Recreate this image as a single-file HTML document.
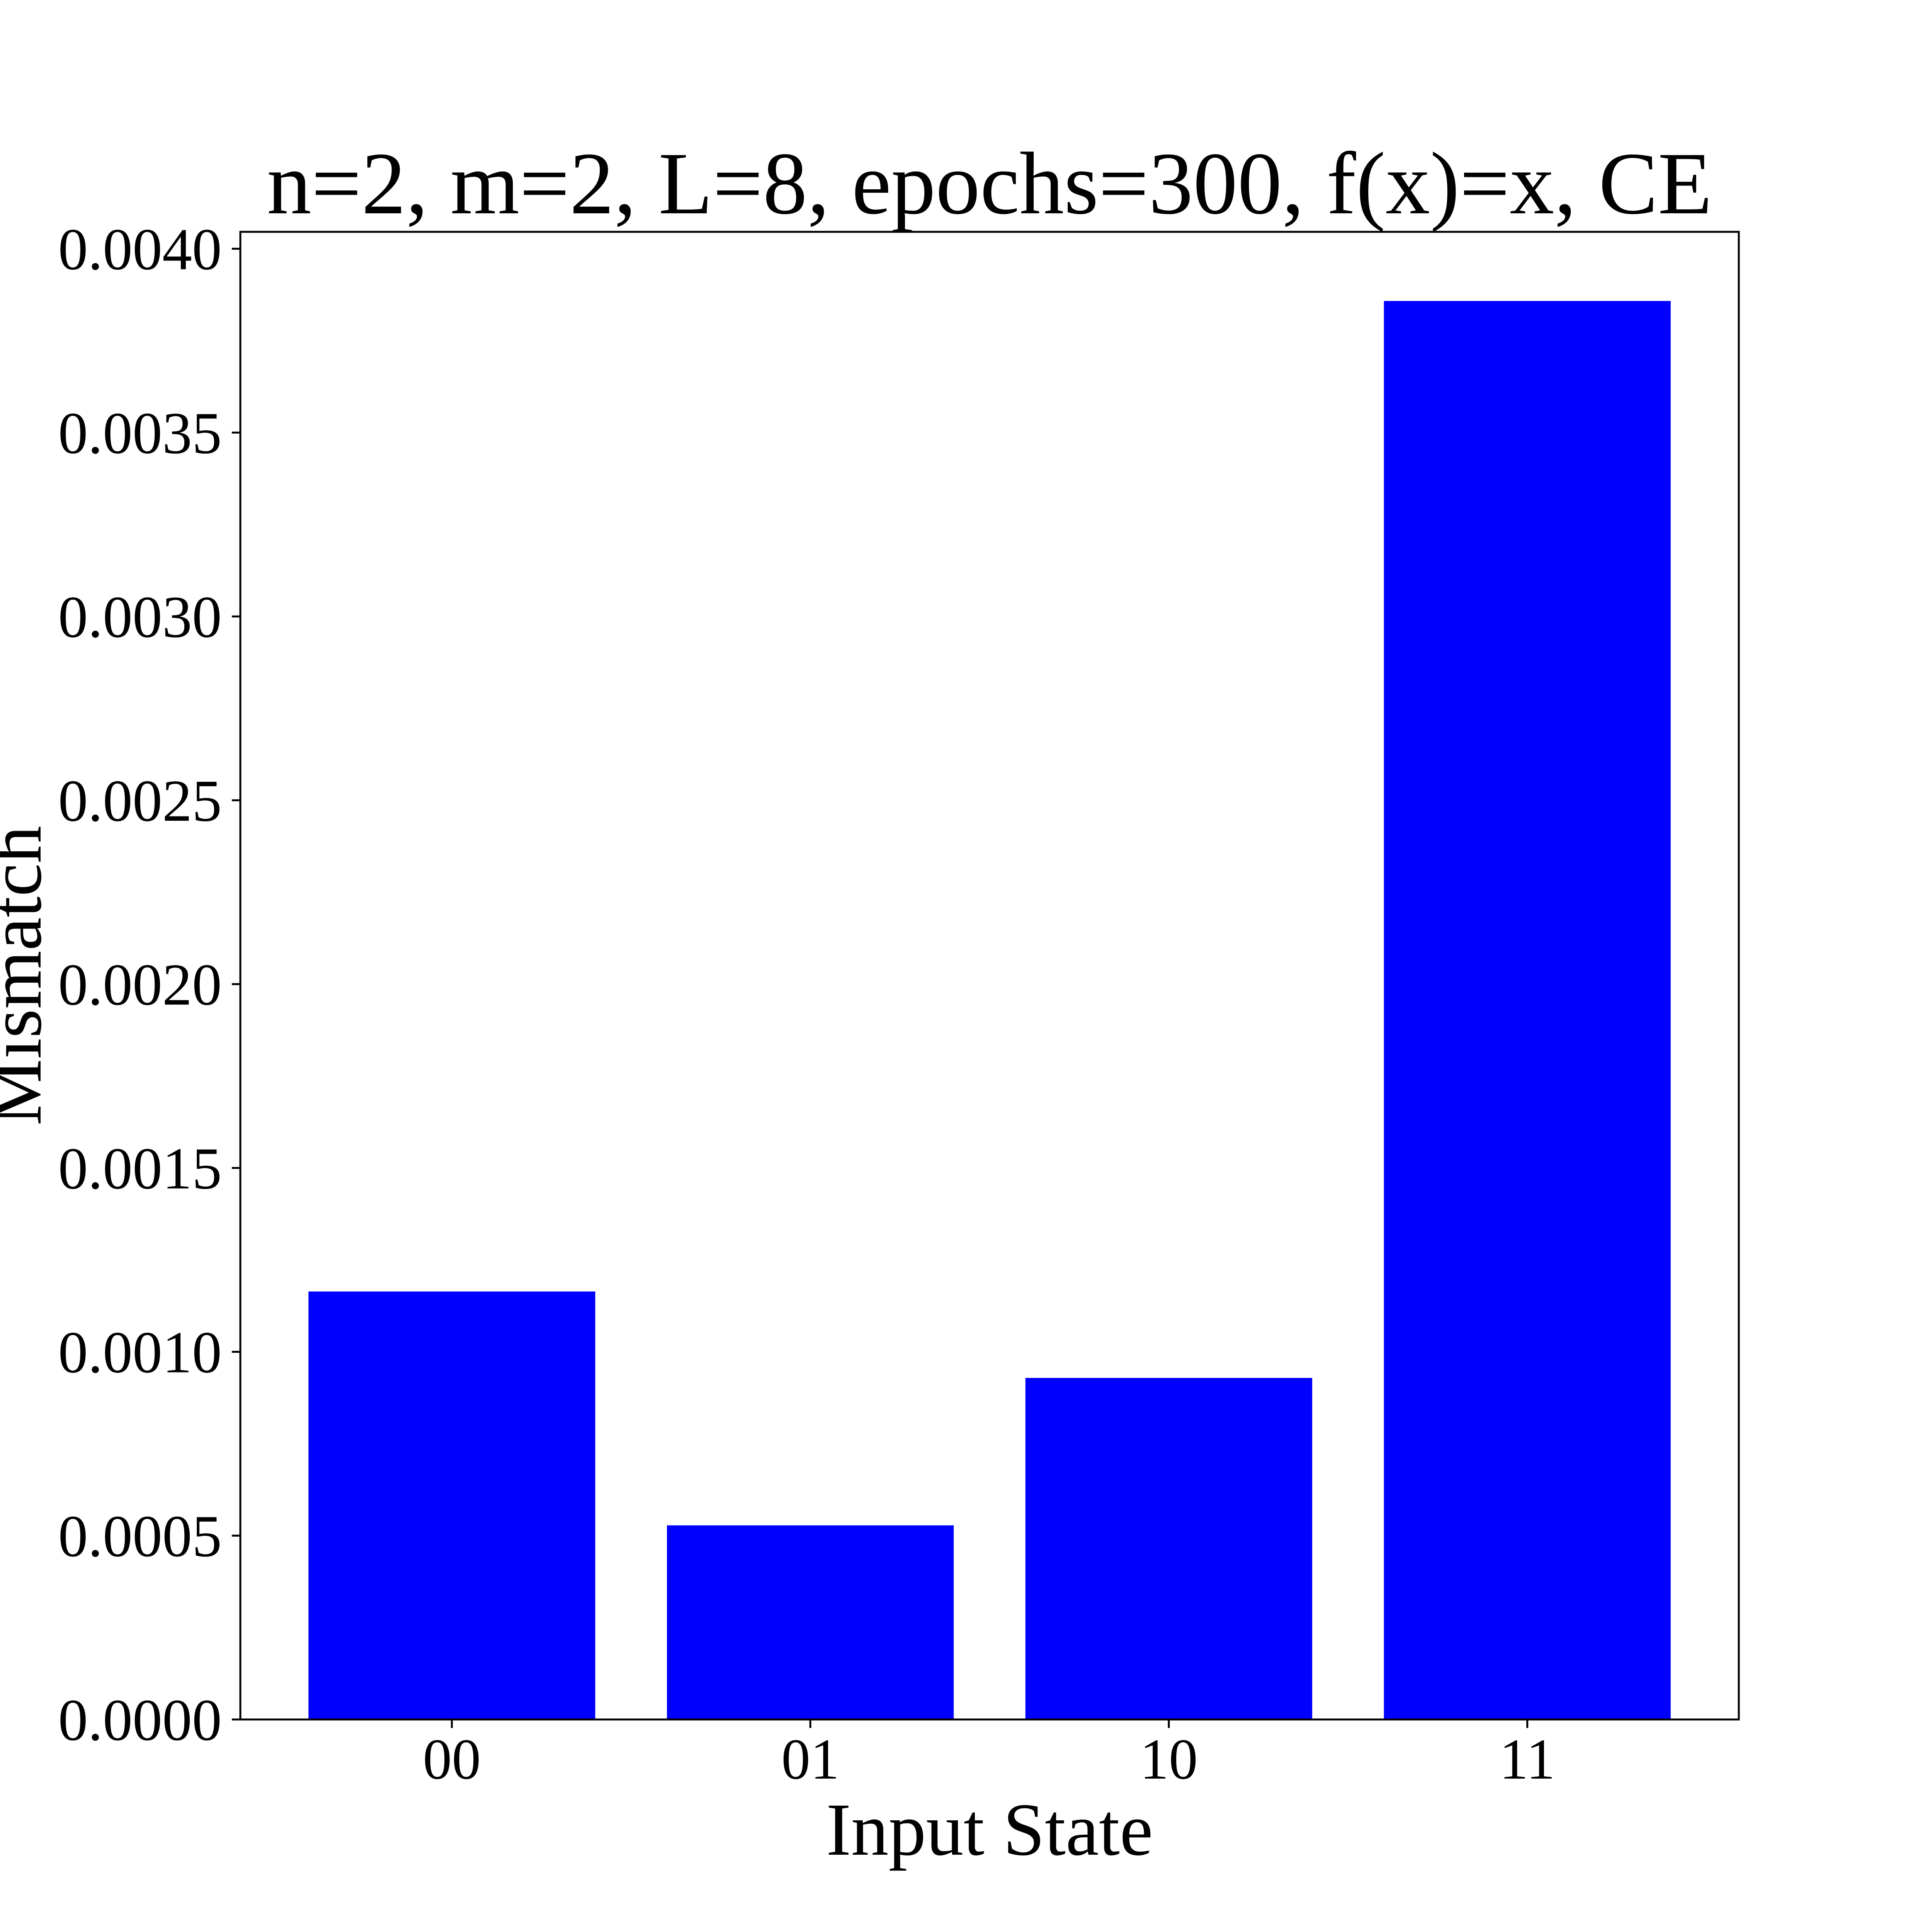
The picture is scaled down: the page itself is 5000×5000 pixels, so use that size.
<!DOCTYPE html>
<html><head><meta charset="utf-8"><style>
html,body{margin:0;padding:0;background:#fff;}
svg{display:block;font-family:"Liberation Serif","DejaVu Serif",serif;}
</style></head><body>
<svg id="chart" width="5000" height="5000" viewBox="0 0 5000 5000" xmlns="http://www.w3.org/2000/svg">
<rect x="0" y="0" width="5000" height="5000" fill="#fff"/>
<text x="2561" y="552" font-size="230" text-anchor="middle">n=2, m=2, L=8, epochs=300, f(x)=x, CE</text>
<g id="bars"></g>
<g id="axes"></g>
<text x="2561" y="4800" font-size="194" text-anchor="middle">Input State</text>
<text x="0" y="0" font-size="194" text-anchor="middle" transform="translate(105,2525) rotate(-90)">Mismatch</text>
</svg>
<script>
const categories = ["00", "01", "10", "11"];
const mismatchValues = [0.001164, 0.000528, 0.000929, 0.003858];
const yTickValues = [0, 0.0005, 0.001, 0.0015, 0.002, 0.0025, 0.003, 0.0035, 0.004];
const yTickLabels = ["0.0000","0.0005","0.0010","0.0015","0.0020","0.0025","0.0030","0.0035","0.0040"];

const NS = "http://www.w3.org/2000/svg";
const plotL = 622, plotR = 4500, plotT = 600, plotB = 4450;
const xMin = -0.59, xMax = 3.59, yMin = 0, yMax = 0.004046;
function xScale(v){ return plotL + (v - xMin) / (xMax - xMin) * (plotR - plotL); }
function yScale(v){ return plotB - (v - yMin) / (yMax - yMin) * (plotB - plotT); }
const barW = 0.8;

const bars = document.getElementById('bars');
categories.forEach((c, i) => {
  const r = document.createElementNS(NS, 'rect');
  
  
  const x0 = xScale(i - barW / 2), x1 = xScale(i + barW / 2);
  const y0 = yScale(mismatchValues[i]);
  r.setAttribute('x', x0); r.setAttribute('width', x1 - x0);
  r.setAttribute('y', y0); r.setAttribute('height', yScale(0) - y0);
  r.setAttribute('fill', '#0000ff');
  bars.appendChild(r);
});

const axes = document.getElementById('axes');
const frame = document.createElementNS(NS, 'rect');


frame.setAttribute('x', plotL); frame.setAttribute('y', plotT);
frame.setAttribute('width', plotR - plotL); frame.setAttribute('height', plotB - plotT);
frame.setAttribute('fill', 'none'); frame.setAttribute('stroke', '#000'); frame.setAttribute('stroke-width', '5');
axes.appendChild(frame);

yTickValues.forEach((v, i) => {
  const y = yScale(v);
  const t = document.createElementNS(NS, 'line');
  
  
  t.setAttribute('x1', plotL - 22); t.setAttribute('x2', plotL);
  t.setAttribute('y1', y); t.setAttribute('y2', y);
  t.setAttribute('stroke', '#000'); t.setAttribute('stroke-width', '5');
  axes.appendChild(t);
  const l = document.createElementNS(NS, 'text');
  
  
  l.setAttribute('x', 574); l.setAttribute('y', y + 53);
  l.setAttribute('font-size', '154'); l.setAttribute('text-anchor', 'end');
  l.textContent = yTickLabels[i];
  axes.appendChild(l);
});

categories.forEach((c, i) => {
  const x = xScale(i);
  const t = document.createElementNS(NS, 'line');
  
  
  t.setAttribute('x1', x); t.setAttribute('x2', x);
  t.setAttribute('y1', plotB); t.setAttribute('y2', plotB + 22);
  t.setAttribute('stroke', '#000'); t.setAttribute('stroke-width', '5');
  axes.appendChild(t);
  const l = document.createElementNS(NS, 'text');
  
  
  l.setAttribute('x', x); l.setAttribute('y', 4603);
  l.setAttribute('font-size', '150'); l.setAttribute('text-anchor', 'middle');
  l.textContent = c;
  axes.appendChild(l);
});
</script>
</body></html>
